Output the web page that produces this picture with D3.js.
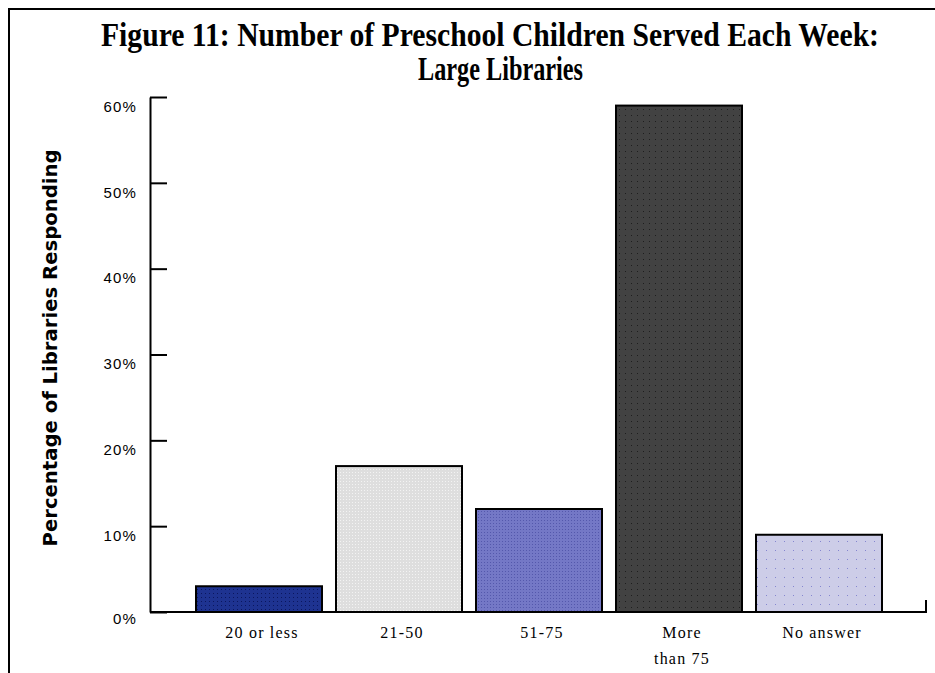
<!DOCTYPE html>
<html>
<head>
<meta charset="utf-8">
<script src="https://cdn.jsdelivr.net/npm/d3@7"></script>
<style>
  html, body { margin: 0; padding: 0; background: #fff; }
  svg { display: block; }
</style>
</head>
<body>
<svg></svg>
<script>
const width = 935;
const height = 673;

// data
const categories = ["20 or less", "21-50", "51-75", "More than 75", "No answer"];
const values = [3, 17, 12, 59, 9];
const yTicks = [0, 10, 20, 30, 40, 50, 60];

// bar looks: base colour, dot colour, dot spacing
const barFills = [
  { base: "#1e3391", dot: "#0b165e", step: 4 },
  { base: "#dedede", dot: "#f3f3f3", step: 3 },
  { base: "#7478c6", dot: "#5458ac", step: 3 },
  { base: "#424242", dot: "#1e1e1e", step: 6 },
  { base: "#cdcde8", dot: "#8586cf", step: 9 }
];

const svg = d3.select('svg')
    .attr('width', width)
    .attr('height', height);

const defs = svg.append('defs');
barFills.forEach((f, i) => {
  const p = defs.append('pattern')
      .attr('id', 'fill' + i)
      .attr('patternUnits', 'userSpaceOnUse')
      .attr('width', f.step)
      .attr('height', f.step);
  p.append('rect').attr('width', f.step).attr('height', f.step).attr('fill', f.base);
  p.append('rect').attr('x', 1).attr('y', 1).attr('width', 1).attr('height', 1).attr('fill', f.dot);
});

// frame
svg.append('path')
    .attr('d', `M9,${height} V9 H${width}`)
    .attr('fill', 'none')
    .attr('stroke', '#000')
    .attr('stroke-width', 2);

// title, glyphs stretched a little taller like the original
const title = svg.append('g')
    .attr('font-family', '"Liberation Serif", "Times New Roman", serif')
    .attr('font-weight', 'bold')
    .attr('fill', '#000');
title.append('text')
    .attr('transform', 'translate(101,46) scale(1,1.1)')
    .attr('font-size', 30)
    .attr('textLength', 778)
    .attr('lengthAdjust', 'spacingAndGlyphs')
    .text('Figure 11: Number of Preschool Children Served Each Week:');
title.append('text')
    .attr('transform', 'translate(418,80) scale(1,1.1)')
    .attr('font-size', 30)
    .attr('textLength', 165)
    .attr('lengthAdjust', 'spacingAndGlyphs')
    .text('Large Libraries');

const x0 = 150, x1 = 926;
const yScale = d3.scaleLinear().domain([0, 60]).range([612, 97]);
const xScale = d3.scaleBand()
    .domain(categories)
    .range([189, 889])
    .paddingInner(0.1)
    .paddingOuter(0.05);

// bars
svg.append('g').selectAll('rect').data(values).enter().append('rect')
    .attr('x', (d, i) => xScale(categories[i]))
    .attr('y', d => yScale(d))
    .attr('width', xScale.bandwidth())
    .attr('height', d => yScale(0) - yScale(d))
    .attr('fill', (d, i) => `url(#fill${i})`)
    .attr('stroke', '#000')
    .attr('stroke-width', 2);

// y axis, ticks pointing inward
const yAxis = d3.axisLeft(yScale)
    .tickValues(yTicks)
    .tickSizeInner(-17)
    .tickSizeOuter(0)
    .tickPadding(13)
    .tickFormat(d => d + '%');
const yAxisG = svg.append('g')
    .attr('transform', `translate(${x0},0)`)
    .call(yAxis);
yAxisG.select('.domain').attr('stroke-width', 2);
yAxisG.selectAll('.tick line').attr('stroke-width', 2);
yAxisG.selectAll('.tick text')
    .attr('dy', '0.95em')
    .attr('font-family', '"Liberation Sans", Arial, sans-serif')
    .attr('font-size', 15)
    .attr('letter-spacing', 1.2)
    .attr('fill', '#000');
yAxisG.selectAll('.tick').filter(d => d === 0).select('text').attr('dy', '0.75em');

// x axis baseline with a small closing tick at the right end
svg.append('path')
    .attr('d', `M${x0},${yScale(0)} H${x1} V${yScale(0) - 12}`)
    .attr('fill', 'none')
    .attr('stroke', '#000')
    .attr('stroke-width', 2);

// category labels
const labelLines = c => c === 'More than 75' ? ['More', 'than 75'] : [c];
const catG = svg.append('g')
    .attr('font-family', '"Liberation Serif", "Times New Roman", serif')
    .attr('font-size', 16)
    .attr('letter-spacing', 1.2)
    .attr('fill', '#000')
    .attr('text-anchor', 'middle');
categories.forEach(c => {
  const t = catG.append('text')
      .attr('x', xScale(c) + xScale.bandwidth() / 2 + 3)
      .attr('y', 638);
  labelLines(c).forEach((line, j) => {
    t.append('tspan')
        .attr('x', xScale(c) + xScale.bandwidth() / 2 + 3)
        .attr('dy', j === 0 ? 0 : 26)
        .text(line);
  });
});

// y axis title
svg.append('text')
    .attr('transform', 'translate(57,348) rotate(-90)')
    .attr('text-anchor', 'middle')
    .attr('font-family', '"DejaVu Sans", sans-serif')
    .attr('font-weight', 'bold')
    .attr('font-size', 19)
    .attr('textLength', 397)
    .attr('lengthAdjust', 'spacingAndGlyphs')
    .text('Percentage of Libraries Responding');
</script>
</body>
</html>
